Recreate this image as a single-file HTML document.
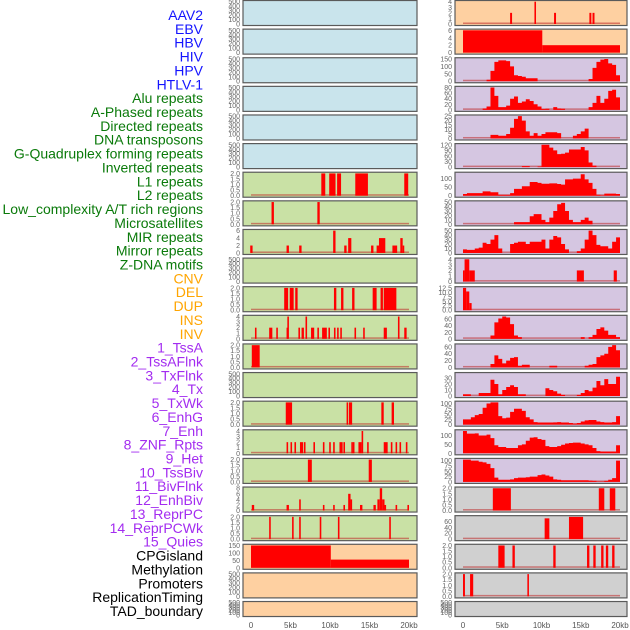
<!DOCTYPE html>
<html><head><meta charset="utf-8"><style>
html,body{margin:0;padding:0;background:#fff;}
svg{display:block;font-family:"Liberation Sans",sans-serif;}
</style></head><body>
<svg id="chart" width="630" height="630" viewBox="0 0 630 630" xmlns="http://www.w3.org/2000/svg"></svg>
<script>
const labels = ["AAV2","EBV","HBV","HIV","HPV","HTLV-1","Alu repeats","A-Phased repeats","Directed repeats","DNA transposons","G-Quadruplex forming repeats","Inverted repeats","L1 repeats","L2 repeats","Low_complexity A/T rich regions","Microsatellites","MIR repeats","Mirror repeats","Z-DNA motifs","CNV","DEL","DUP","INS","INV","1_TssA","2_TssAFlnk","3_TxFlnk","4_Tx","5_TxWk","6_EnhG","7_Enh","8_ZNF_Rpts","9_Het","10_TssBiv","11_BivFlnk","12_EnhBiv","13_ReprPC","14_ReprPCWk","15_Quies","CPGisland","Methylation","Promoters","ReplicationTiming","TAD_boundary"];
const labelGroups = ["v","v","v","v","v","v","r","r","r","r","r","r","r","r","r","r","r","r","r","c","c","c","c","c","h","h","h","h","h","h","h","h","h","h","h","h","h","h","h","o","o","o","o","o"];
const bgLeft = ["b","b","b","b","b","b","g","g","g","g","g","g","g","g","g","g","g","g","g","o","o","o"];
const bgRight = ["o","o","p","p","p","p","p","p","p","p","p","p","p","p","p","p","p","x","x","x","x","x"];
const E=[0,100,200,300,400,500], T2=[0,0.5,1,1.5,2];
const ticksLeft = [E,E,E,E,E,E,T2,T2,[0,2,4,6],E,T2,[0,1,2,3,4],T2,E,T2,[0,1,2,3,4],T2,[0,2,4,6,8],T2,[0,50,100,150],E,E];
const ymaxLeft = [500,500,500,500,500,500,2,2,6,500,2,4,2,500,2,4,2,8,2,150,500,500];
const ticksRight = [[0,1,2,3,4],[0,2,4,6],[0,50,100,150],[0,20,40,60,80],[0,5,10,15,20,25],[0,30,60,90,120],[0,50,100],[0,10,20,30,40,50],[0,10,20,30,40,50],[0,1,2,3,4],[0,2.5,5,7.5,10,12.5],[0,20,40,60],[0,20,40,60],[0,10,20,30],[0,25,50,75,100],[0,50,100],[0,25,50,75,100],T2,[0,20,40,60],T2,T2,E];
const ymaxRight = [4,6,150,80,25,120,130,50,50,4,12.5,68,65,37,105,125,105,2,75,2,2,500];
// left bar segments [startKb, endKb, value]
const barsLeft = {
 6:[[8.9,9.4,2],[9.9,10.7,2],[10.9,11.4,2],[13.2,14.8,2],[19.4,19.9,2]],
 7:[[2.6,2.9,2],[8.4,8.7,2]],
 8:[[-0.1,0.2,2],[4.5,4.8,2],[6.1,6.4,2],[10.4,10.7,6],[11.8,12.1,2],[12.3,12.7,4],[15.2,15.5,2],[15.9,16.3,2],[16.2,17,4],[17.9,18.5,2],[18.9,19.2,4],[19.2,19.4,2]],
 10:[[4.2,4.7,2],[4.9,5.4,2],[5.6,5.9,2],[10.5,10.8,2],[11.4,11.7,2],[12.8,13.1,2],[15.4,15.9,2],[16.4,16.7,2],[16.8,18.4,2]],
 11:[[0.5,0.7,2],[2.3,2.7,2],[3.2,3.4,2],[4.5,4.7,2],[4.6,4.8,4],[6.0,6.2,2],[6.4,6.7,2],[6.9,7.1,4],[7.6,8.0,2],[8.4,8.6,2],[9.0,9.6,2],[9.8,10.0,2],[10.5,10.7,2],[10.9,11.1,2],[11.3,11.5,2],[13.1,13.3,2],[14.2,14.4,2],[16.8,17.2,2],[18.6,18.8,4],[19.4,19.7,2]],
 12:[[0.1,1.1,2]],
 14:[[4.4,5.2,2],[12.1,12.3,2],[12.4,12.8,2],[16.5,16.8,2],[17.8,18.1,2]],
 15:[[4.5,4.7,2],[5.0,5.2,2],[5.5,5.7,2],[6.2,6.6,2],[6.7,6.9,2],[7.9,8.1,2],[9.1,9.3,2],[9.9,10.1,2],[10.4,10.6,2],[11.2,11.6,2],[11.7,11.9,2],[12.7,12.9,2],[12.9,13.1,2],[13.6,14.0,2],[14.0,14.2,4],[14.7,14.9,2],[16.8,17.3,2],[17.7,17.9,2],[18.3,18.5,2],[18.8,19.0,2],[19.6,19.8,2]],
 16:[[7.2,7.7,2],[14.9,15.3,2]],
 17:[[0.1,0.4,2],[4.5,4.8,2],[6.1,6.3,4],[9.1,9.3,2],[10.4,10.6,2],[11.7,11.9,2],[12.3,12.6,6],[12.6,12.8,4],[13.8,14.1,2],[15.5,15.8,2],[16.0,16.3,4],[16.3,16.6,8],[16.6,16.9,4],[16.9,17.1,2],[18.3,18.5,2],[19.8,20.0,2]],
 18:[[2.3,2.5,2],[5.2,5.4,2],[6.1,6.3,2],[8.7,8.9,2],[11.0,11.2,2],[17.5,17.7,2]],
 19:[[0,10.1,150],[10.1,20,55]]
};
const barsRight = {
 0:[[6.0,6.25,2],[9.1,9.3,4],[11.6,11.85,2],[16.1,16.35,2],[16.5,16.75,2]],
 1:[[0,10.1,6],[10.1,20,2]],
 9:[[0,0.2,2],[0.2,0.8,4],[0.8,1.5,2],[14.5,15.4,2],[19.2,19.6,2]],
 10:[[0,0.4,12.5],[0.4,0.8,10.5],[0.8,1.1,4]],
 17:[[3.8,6.1,2],[17.3,18,2],[18.7,19.4,2]],
 18:[[10.4,11,70],[13.5,15.3,75]],
 19:[[4.5,5.3,2],[6.3,6.6,2],[11.5,11.8,2],[15.8,16.1,2],[16.6,16.9,2],[17.6,17.9,2],[18.2,18.5,2],[19,19.3,2]],
 20:[[0,0.25,2],[0.9,1.3,2],[8.2,8.4,2]]
};
// right profile histograms, 40 bins of 0.5kb
const profRight = {
 2:[0,0,0,0,0,0,10,70,130,140,140,135,100,40,35,30,20,20,20,0,0,0,0,0,0,0,0,0,0,0,0,0,15,90,130,145,150,120,110,40],
 3:[0,0,0,0,0,5,12,80,50,10,10,15,40,48,25,30,38,32,20,12,3,4,0,10,5,4,0,0,0,0,0,0,10,25,50,25,40,68,72,45],
 4:[0,0,0,0,0,0,0,4,4,3,3,5,12,22,25,20,8,3,6,3,5,7,7,7,6,0,0,0,3,5,8,11,0,0,0,0,0,0,0,0],
 5:[0,0,0,0,0,0,0,0,0,0,0,0,0,0,0,5,5,0,0,3,120,120,105,90,70,72,78,95,95,95,108,90,25,8,0,0,0,0,0,0],
 6:[10,15,15,15,15,25,25,20,20,5,5,5,15,40,40,55,55,80,80,75,70,70,72,72,68,65,95,95,100,100,125,95,75,40,5,3,12,12,12,10],
 7:[0,0,0,0,0,0,0,0,0,0,0,0,0,5,5,5,5,18,23,23,10,5,15,30,45,48,30,10,5,5,10,15,8,0,0,0,0,0,0,0],
 8:[8,7,7,10,12,23,20,30,40,10,0,0,20,23,25,25,20,25,25,25,30,10,30,38,35,20,8,0,0,4,10,30,50,40,18,15,15,10,25,35],
 11:[0,0,0,0,0,0,0,10,50,62,68,65,45,10,5,0,0,0,0,0,0,0,0,0,0,0,0,0,0,0,5,0,5,12,30,35,25,12,12,5],
 12:[0,0,0,0,0,0,0,10,35,25,12,20,28,30,5,8,8,0,0,0,0,0,5,5,0,0,0,0,0,0,0,5,8,10,30,35,40,60,65,50],
 13:[3,3,0,0,5,5,5,27,20,3,10,15,18,15,3,3,0,0,0,0,0,13,10,8,4,2,0,0,0,2,5,10,8,14,25,18,28,20,20,32],
 14:[25,25,35,45,50,80,100,105,105,40,30,33,60,75,75,65,35,25,12,10,10,10,10,11,12,10,10,8,5,8,15,20,22,22,15,12,10,10,12,40],
 15:[125,110,110,112,100,100,105,85,45,35,35,30,30,30,45,50,70,88,90,80,75,40,35,35,40,48,55,58,60,60,55,50,45,30,12,10,10,10,10,45],
 16:[105,105,100,100,95,92,85,65,20,10,10,10,12,18,20,20,22,25,25,32,35,30,25,12,10,8,8,8,8,8,8,8,6,5,2,2,5,10,18,100]
};
const xTicks = [0,5,10,15,20];
const xTickLabels = ["0","5kb","10kb","15kb","20kb"];

const NS="http://www.w3.org/2000/svg";
const svg=document.getElementById('chart');
const BG={b:"#c9e4ec",g:"#c9e1a5",p:"#d5c6e1",o:"#fed0a1",x:"#d0d0d0"};
const LC={v:"#1414ff",r:"#0a7a0a",c:"#ffa500",h:"#a32cf0",o:"#000"};
function mk(t,a){const e=document.createElementNS(NS,t);for(const k in a)e.setAttribute(k,a[k]);svg.appendChild(e);return e;}
const xL=kb=>251+kb*7.9, xR=kb=>463+kb*7.85;
const PL={x0:243,x1:417}, PR={x0:455,x1:627};

labels.forEach((s,i)=>{
  const t=mk('text',{x:203,y:15+i*13.86+5,'text-anchor':'end','font-size':14,fill:LC[labelGroups[i]]});
  t.textContent=s;
  
  
});

function fmt(ticks){const dec=ticks.some(v=>v%1!==0);return v=>dec?v.toFixed(1):String(v);}
function panel(i,side){
  const top=0.5+i*28.62, h=i===21?15:25;
  const P=side==='L'?PL:PR, xs=side==='L'?xL:xR;
  const bg=side==='L'?bgLeft[i]:bgRight[i];
  const ticks=side==='L'?ticksLeft[i]:ticksRight[i];
  const ymax=side==='L'?ymaxLeft[i]:ymaxRight[i];
  const y0=top+h-1.5, yt=top+1.2;
  const ys=v=>y0-(v/ymax)*(y0-yt);
  const r=mk('rect',{x:P.x0,y:top,width:P.x1-P.x0,height:h,fill:BG[bg]});
  
  
  const f=fmt(ticks);
  ticks.forEach(v=>{
    const t=mk('text',{x:P.x0-3,y:ys(v)+2.5,'text-anchor':'end','font-size':7,fill:'#666'});
    t.textContent=f(v);
    
    
  });
  const clip=(a)=>Math.max(P.x0+1,Math.min(P.x1-1,a));
  const bars=(side==='L'?barsLeft:barsRight)[i];
  const prof=side==='R'?profRight[i]:null;
  if(bars||prof){
    const bl=mk('rect',{x:xs(0),y:y0-1.5,width:xs(20)-xs(0),height:1.5,fill:'rgba(190,40,40,0.55)'});
    
    
  }
  if(bars) bars.forEach(b=>{
    const a=clip(xs(b[0])), c=clip(xs(b[1]));
    const e=mk('rect',{x:a,y:ys(b[2]),width:Math.max(1.2,c-a),height:y0-ys(b[2]),fill:'#ff0000'});
    
    
  });
  if(prof){
    let d='M'+xs(0)+','+y0;
    prof.forEach((v,k)=>{d+=' L'+xs(k*0.5)+','+ys(v)+' L'+xs((k+1)*0.5)+','+ys(v);});
    d+=' L'+xs(20)+','+y0+' Z';
    const p=mk('path',{d:d,fill:'#ff0000'});
    
    
  }
  const bd=mk('rect',{x:P.x0,y:top,width:P.x1-P.x0,height:h,fill:'none',stroke:'#5a5a5a','stroke-width':1.2});
  
  
}
for(let i=0;i<22;i++){panel(i,'L');panel(i,'R');}
[['L',xL],['R',xR]].forEach(([s,xs])=>{
  xTicks.forEach((v,k)=>{
    const t=mk('text',{x:xs(v),y:628,'text-anchor':'middle','font-size':8,fill:'#555'});
    t.textContent=xTickLabels[k];
    
    
  });
});
</script>
</body></html>
